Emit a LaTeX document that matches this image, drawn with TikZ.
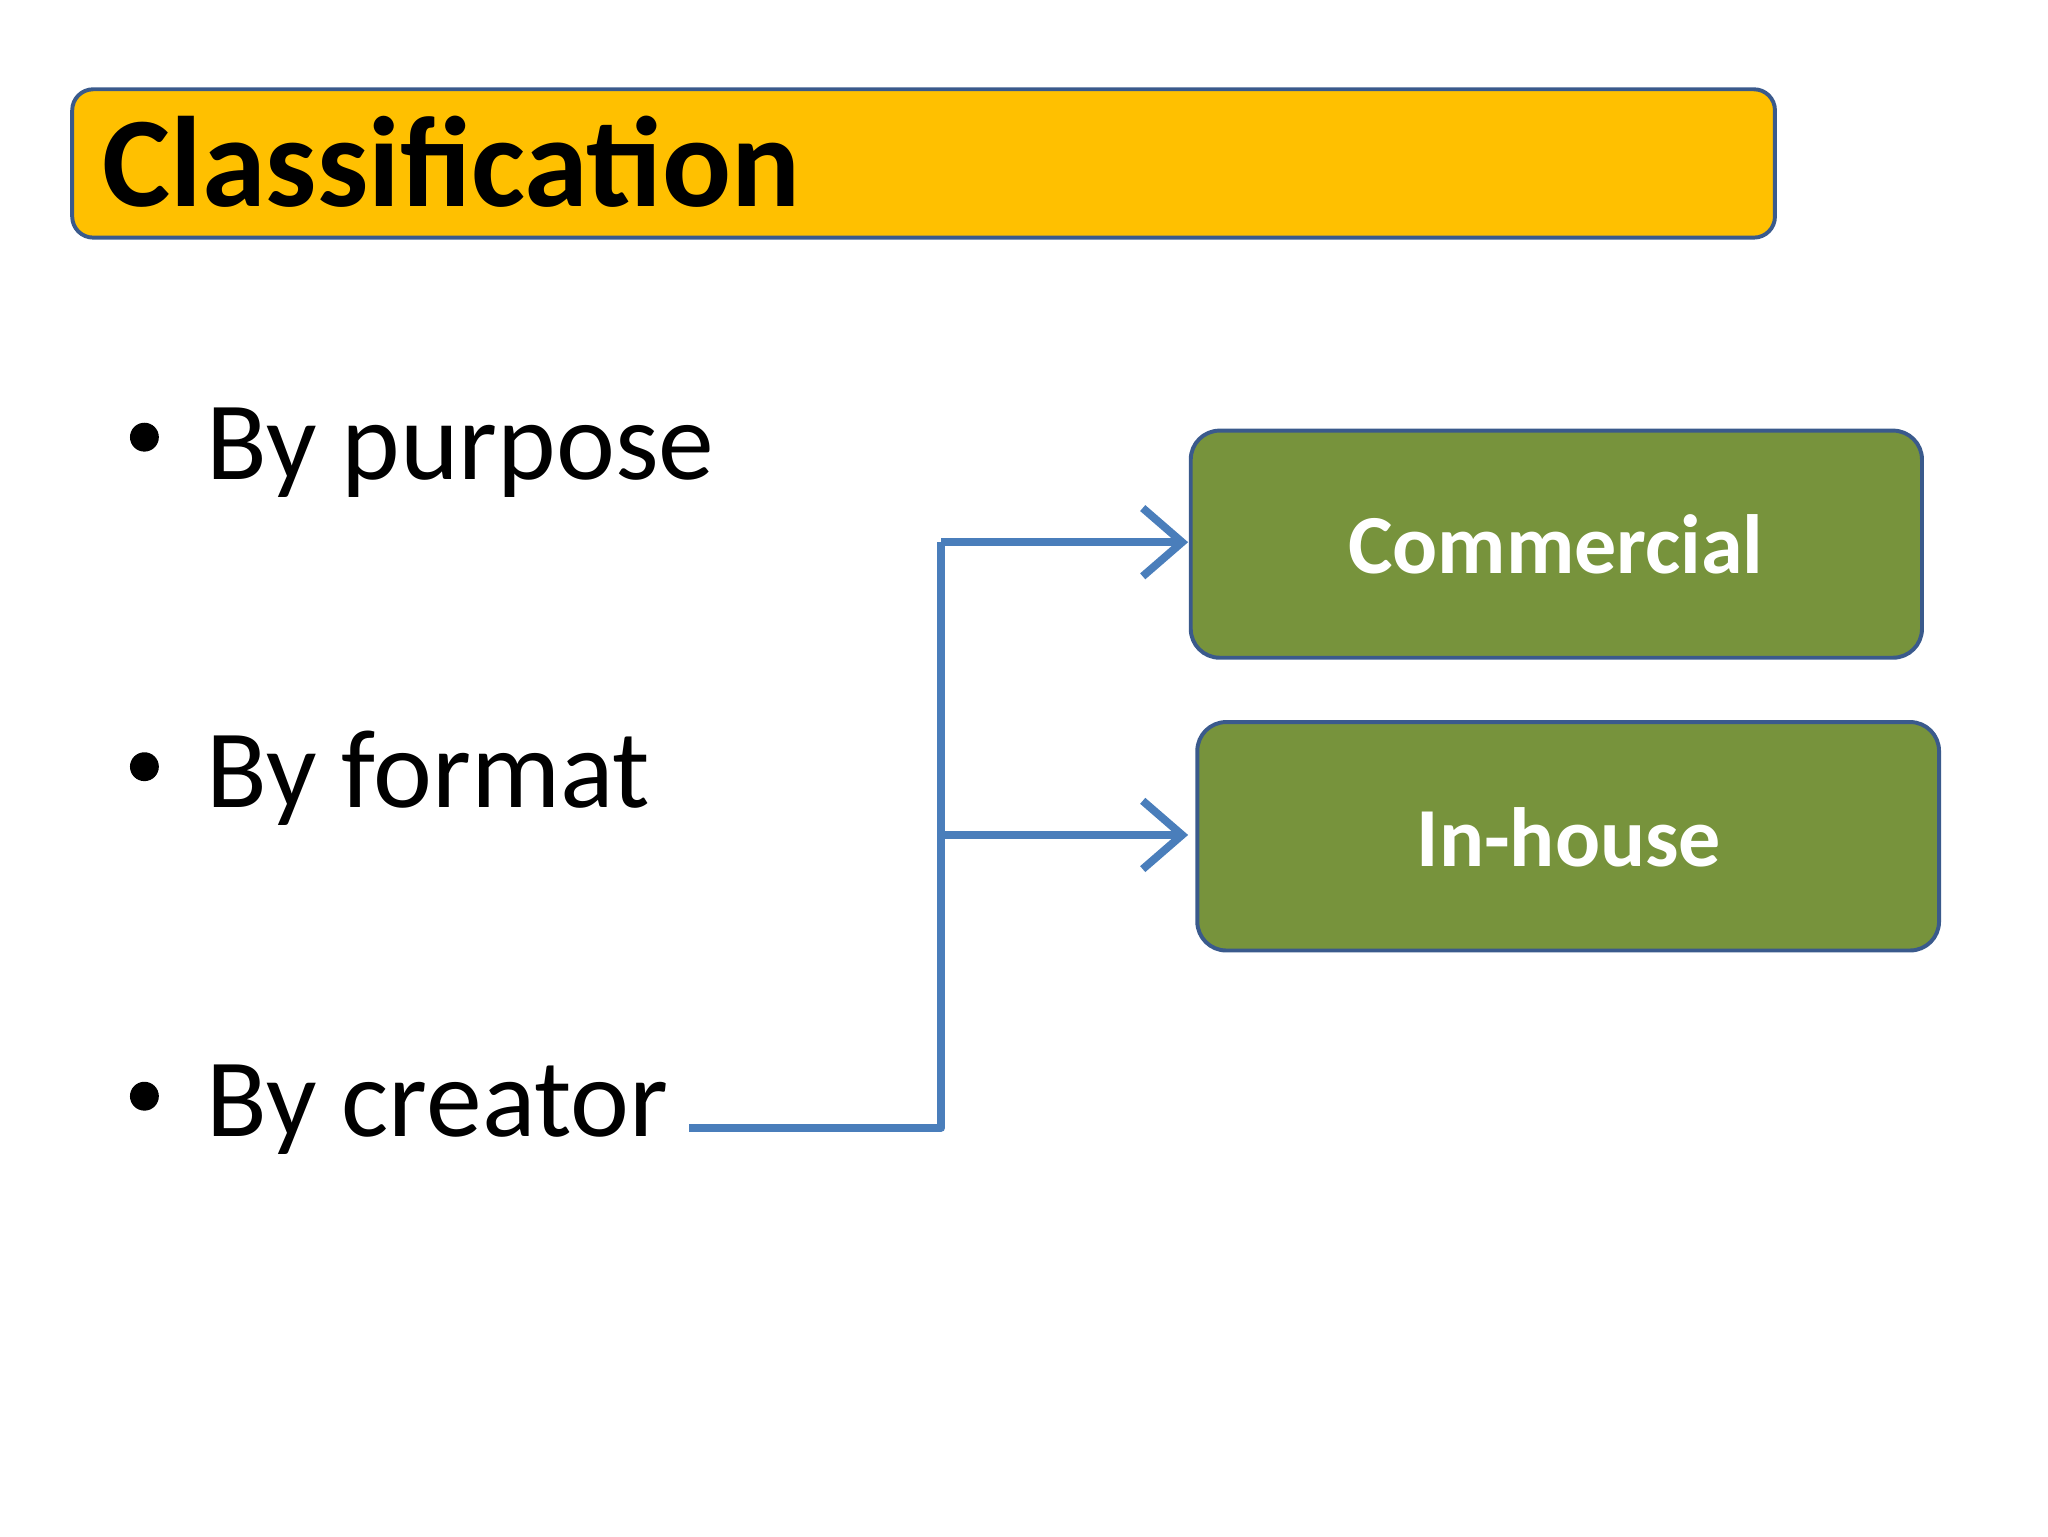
\documentclass[tikz,border=0pt]{standalone}
\usepackage{fontspec}
\setmainfont{Carlito}
\usetikzlibrary{arrows.meta}
\definecolor{gold}{HTML}{FFC000}
\definecolor{olive}{HTML}{77933C}
\definecolor{edge}{HTML}{3A5A8C}
\definecolor{conn}{HTML}{4A7EBB}
\begin{document}
\begin{tikzpicture}[x=1pt,y=-1pt,
  box/.style={draw=edge,line width=3pt,rounded corners=22pt,fill=olive},
  lbl/.style={text=white,font=\fontsize{64}{70}\selectfont\bfseries},
  item/.style={anchor=base west,inner sep=0pt,font=\fontsize{85}{90}\selectfont},
  link/.style={draw=conn,line width=6pt},
  arr/.style={link,-{Straight Barb[length=30pt,width=52pt,line width=6pt]}}]
\useasboundingbox (0,0) rectangle (1560,1170);
\draw[draw=edge,line width=3pt,rounded corners=16pt,fill=gold] (55,68) rectangle (1352,181);
\node[anchor=base west,inner sep=0pt,font=\fontsize{98}{100}\selectfont\bfseries] (title) at (78,157) {Classification};
\node[circle,fill=black,minimum size=22pt,inner sep=0pt] (b1) at (110,333) {};
\node[circle,fill=black,minimum size=22pt,inner sep=0pt] (b2) at (110,584) {};
\node[circle,fill=black,minimum size=22pt,inner sep=0pt] (b3) at (110,835) {};
\node[item] (p) at (157,365) {By purpose};
\node[item] (f) at (157,615) {By format};
\node[item] (c) at (157,866) {By creator};
\draw[box] (907,328) rectangle (1464,501);
\node[lbl] (com) at (1185,415) {Commercial};
\draw[box] (912,550) rectangle (1477,724);
\node[lbl] (inh) at (1195,638) {In-house};
\coordinate (s) at (525,859);
\coordinate (k) at (717,859);
\coordinate (t1) at (905,413);
\coordinate (t2) at (905,636);
\draw[link,line join=round] (s) -- (k) -- (k|-t1);
\draw[arr] (717,413) -- (t1);
\draw[arr] (717,636) -- (t2);
\end{tikzpicture}
\end{document}
